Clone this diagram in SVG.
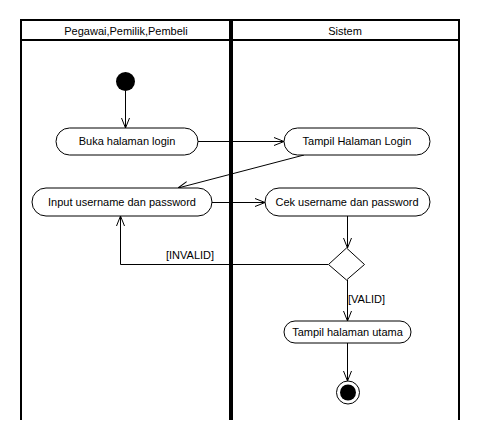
<svg xmlns="http://www.w3.org/2000/svg" width="480" height="440" viewBox="0 0 480 440">
<style>
  text { font-family: "Liberation Sans", Arial, sans-serif; font-size: 11px; fill: #000; }
  .node rect { fill: #fff; stroke: #000; stroke-width: 1; }
  .edge { fill: none; stroke: #000; stroke-width: 1; }
  .lane { fill: none; stroke: #000; stroke-width: 2; }
</style>
<defs>
  <marker id="arr" viewBox="0 0 10 10" refX="10" refY="5" markerWidth="10" markerHeight="10" markerUnits="userSpaceOnUse" orient="auto">
    <path d="M0,1 L10,5 L0,9" fill="none" stroke="#000" stroke-width="1"/>
  </marker>
</defs>
<rect width="480" height="440" fill="#fff"/>
<g id="swimlanes">
  <path class="lane" d="M21,420 V20 H459 V420"/>
  <line class="lane" x1="21" y1="40" x2="459" y2="40"/>
  <line x1="231" y1="20" x2="231" y2="420" stroke="#000" stroke-width="4"/>
  <text x="126" y="35" text-anchor="middle">Pegawai,Pemilik,Pembeli</text>
  <text x="345" y="35" text-anchor="middle">Sistem</text>
</g>
<g id="connectors">
  <line class="edge" x1="125.5" y1="91" x2="125.5" y2="128" marker-end="url(#arr)"/>
  <line class="edge" x1="198" y1="141.5" x2="284" y2="141.5" marker-end="url(#arr)"/>
  <line class="edge" x1="304" y1="155" x2="178" y2="188" marker-end="url(#arr)"/>
  <line class="edge" x1="212" y1="202.5" x2="265" y2="202.5" marker-end="url(#arr)"/>
  <line class="edge" x1="347.5" y1="216" x2="347.5" y2="248" marker-end="url(#arr)"/>
  <path class="edge" d="M328,264.5 H120.5 V216" marker-end="url(#arr)"/>
  <text x="166" y="259">[INVALID]</text>
  <line class="edge" x1="347.5" y1="280" x2="347.5" y2="321" marker-end="url(#arr)"/>
  <text x="348" y="303">[VALID]</text>
  <line class="edge" x1="347.5" y1="343" x2="347.5" y2="381" marker-end="url(#arr)"/>
</g>
<g id="start">
  <circle cx="125.5" cy="81.5" r="9.5" fill="#000"/>
</g>
<g id="buka" class="node">
  <rect x="56" y="128" width="142" height="27" rx="13.5"/>
  <text x="127" y="145" text-anchor="middle">Buka halaman login</text>
</g>
<g id="tampil-login" class="node">
  <rect x="284" y="128" width="146" height="27" rx="13.5"/>
  <text x="357" y="145" text-anchor="middle">Tampil Halaman Login</text>
</g>
<g id="input" class="node">
  <rect x="32" y="188" width="180" height="28" rx="14"/>
  <text x="122" y="206" text-anchor="middle">Input username dan password</text>
</g>
<g id="cek" class="node">
  <rect x="265" y="188" width="165" height="28" rx="14"/>
  <text x="347" y="206" text-anchor="middle">Cek username dan password</text>
</g>
<g id="decision">
  <polygon points="346.5,248 364.5,264.5 346.5,280 328.5,264.5" fill="#fff" stroke="#000" stroke-width="1"/>
</g>
<g id="tampil-utama" class="node">
  <rect x="284" y="321" width="127" height="22" rx="11"/>
  <text x="347.5" y="336" text-anchor="middle">Tampil halaman utama</text>
</g>
<g id="end">
  <circle cx="348" cy="392.5" r="11.5" fill="#fff" stroke="#000" stroke-width="1"/>
  <circle cx="348" cy="392.5" r="8" fill="#000"/>
</g>
</svg>
